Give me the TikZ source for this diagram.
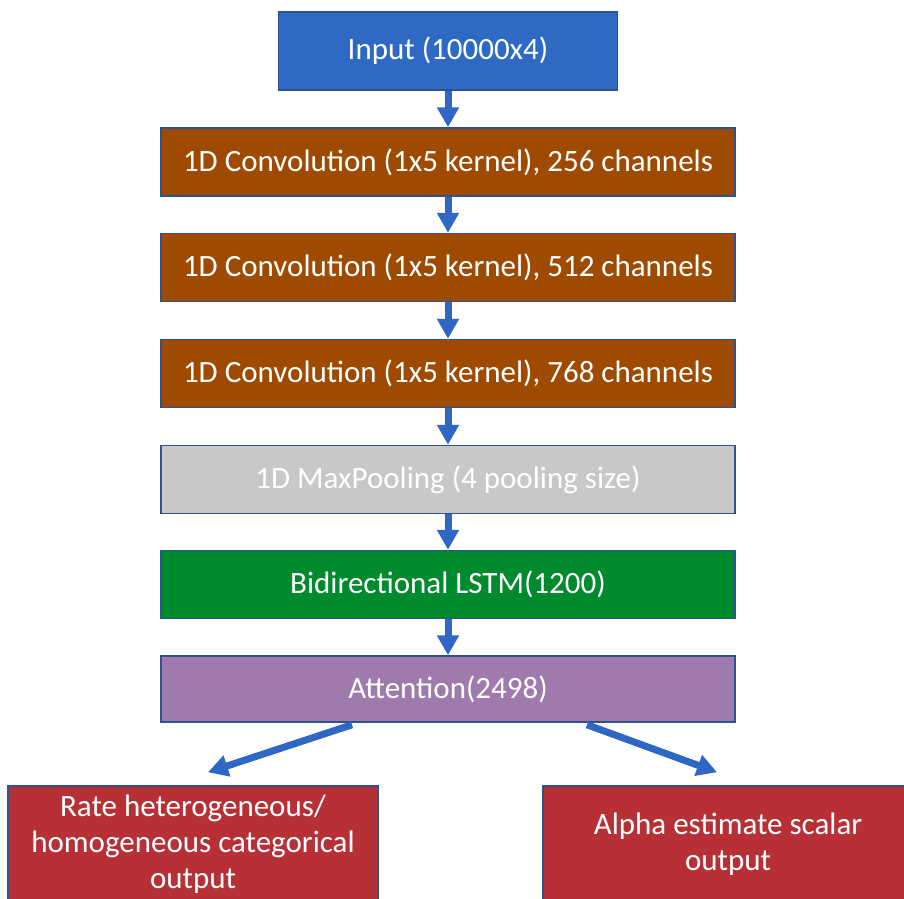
\documentclass[tikz,border=0pt]{standalone}
\usepackage{fontspec}
\setmainfont{Carlito}
\usetikzlibrary{arrows.meta,positioning,calc}
\definecolor{cIn}{HTML}{2E6AC3}
\definecolor{cConv}{HTML}{9E4A00}
\definecolor{cPool}{HTML}{C8C8C8}
\definecolor{cLstm}{HTML}{008A2E}
\definecolor{cAtt}{HTML}{9E7BAC}
\definecolor{cOut}{HTML}{B73035}
\definecolor{cEdge}{HTML}{2F528F}
\definecolor{cArr}{HTML}{2E67C4}
\tikzset{
  layer/.style = {rectangle, draw=cEdge, line width=1.5pt, text=white,
                  align=center, inner sep=0pt, minimum width=574pt,
                  minimum height=68pt, font=\fontsize{31}{36}\selectfont},
  inb/.style   = {layer, fill=cIn, minimum width=339pt, minimum height=78pt},
  convb/.style = {layer, fill=cConv},
  poolb/.style = {layer, fill=cPool},
  lstmb/.style = {layer, fill=cLstm},
  attb/.style  = {layer, fill=cAtt, minimum height=66pt},
  outb/.style  = {layer, fill=cOut, minimum width=370pt, minimum height=116pt},
  fl/.style    = {-{Triangle[width=21pt,length=20pt]}, draw=cArr, line width=7pt},
}
\begin{document}
\begin{tikzpicture}[x=1pt,y=-1pt]
  \useasboundingbox (0,0) rectangle (904,898);
  \clip (0,0) rectangle (904,898);

  % ---- the stack of layers ----
  \node[inb]   (inp)   at (448,51)    {Input (10000x4)};
  \node[convb] (conv1) at (448,162)   {1D Convolution (1x5 kernel), 256 channels};
  \node[convb] (conv2) at (448,267.5) {1D Convolution (1x5 kernel), 512 channels};
  \node[convb] (conv3) at (448,373.5) {1D Convolution (1x5 kernel), 768 channels};
  \node[poolb] (pool)  at (448,479.5) {1D MaxPooling (4 pooling size)};
  \node[lstmb] (lstm)  at (448,584.5) {Bidirectional LSTM(1200)};
  \node[attb]  (att)   at (448,689)   {Attention(2498)};

  % ---- the two heads ----
  \node[outb] (rate)  at (193,844) {Rate heterogeneous/\\homogeneous categorical\\output};
  \node[outb] (alpha) at (728,844) {Alpha estimate scalar\\output};

  \draw[fl] (inp)   -- (conv1);
  \draw[fl] (conv1) -- (conv2);
  \draw[fl] (conv2) -- (conv3);
  \draw[fl] (conv3) -- (pool);
  \draw[fl] (pool)  -- (lstm);
  \draw[fl] (lstm)  -- (att);

  \coordinate (lt) at ($(att.south)+(-96,2)$);
  \coordinate (lh) at ($(rate.north)+(15,-13)$);
  \coordinate (rt) at ($(att.south)+(139,2)$);
  \coordinate (rh) at ($(alpha.north)+(-11,-13)$);
  \draw[fl] (lt) -- (lh);
  \draw[fl] (rt) -- (rh);
\end{tikzpicture}
\end{document}
